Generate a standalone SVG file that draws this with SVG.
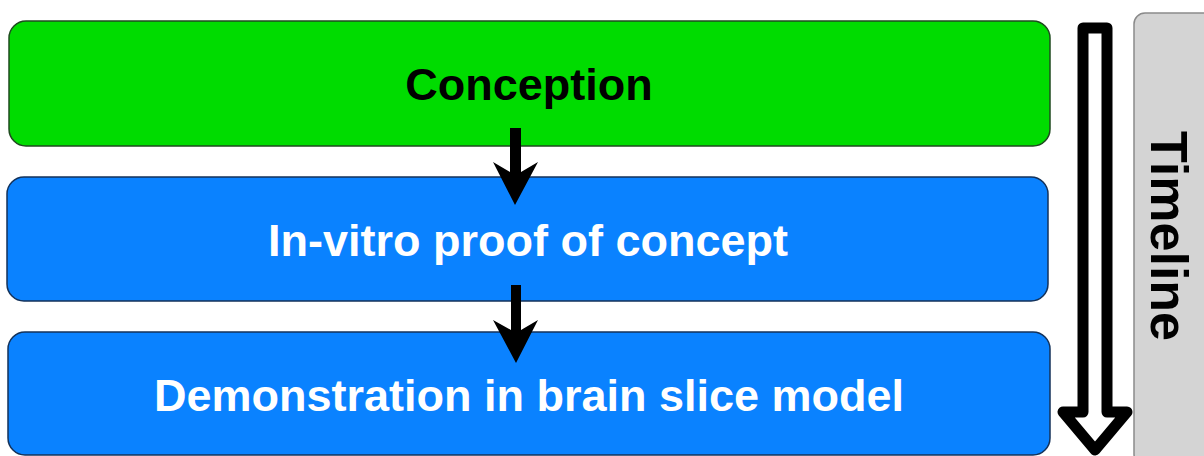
<svg xmlns="http://www.w3.org/2000/svg" width="1204" height="456" viewBox="0 0 1204 456">
<style>
.box{stroke:#1c2a3a;stroke-width:1.5}
.green{fill:#00dc00;stroke:#1f4a1f}
.blue{fill:#0a82ff;stroke:#14325a}
.lbl{font-family:"Liberation Sans",Arial,sans-serif;font-weight:bold;font-size:45px;text-anchor:middle}
.arrow{fill:#000}
</style>
<rect width="1204" height="456" fill="#ffffff"/>
<g id="timeline-bg">
<rect x="1134" y="13" width="90" height="452" rx="11" fill="#d4d4d4" stroke="#8a8a8a" stroke-width="1.5"/>
<text class="lbl" style="font-size:52px" transform="translate(1151,236) rotate(90)" fill="#000">Timeline</text>
</g>
<g id="timeline-arrow">
<path d="M1083,28 H1107 V412 H1127 L1095,450 L1063,412 H1083 Z" fill="#fff" stroke="#000" stroke-width="11" stroke-linejoin="round"/>
</g>
<g id="conception">
<rect class="box green" x="9" y="21" width="1041" height="125" rx="17"/>
<text class="lbl" x="529" y="100" fill="#000">Conception</text>
</g>
<g id="invitro">
<rect class="box blue" x="7" y="177" width="1041" height="124" rx="17"/>
<text class="lbl" x="528" y="256" fill="#fff">In-vitro proof of concept</text>
</g>
<g id="demonstration">
<rect class="box blue" x="8" y="332" width="1042" height="123" rx="17"/>
<text class="lbl" x="529" y="411" fill="#fff">Demonstration in brain slice model</text>
</g>
<g id="connectors">
<path class="arrow" d="M510,128 H521 V172 L538,162 L515,205 L493,162 L510,172 Z"/>
<path class="arrow" d="M511,285 H521 V330 L538,320 L516,363 L493,320 L511,330 Z"/>
</g>
</svg>
